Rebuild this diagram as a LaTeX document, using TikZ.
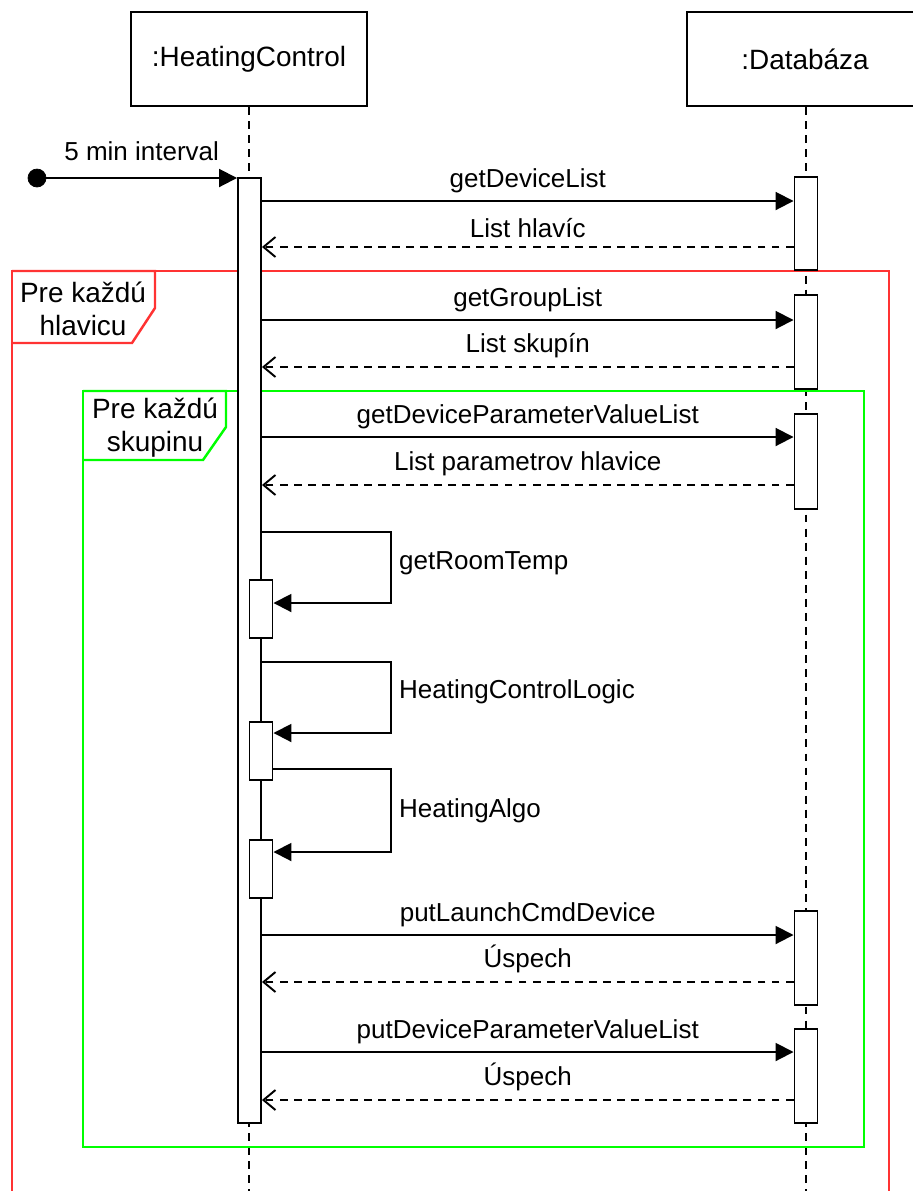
\documentclass[tikz,border=0pt]{standalone}
\usepackage{fontspec}
\setmainfont{Liberation Sans}
\usetikzlibrary{arrows.meta}

\tikzset{
  msgfont/.style={font=\fontsize{14.8}{18.7}\selectfont},
  bigfont/.style={font=\fontsize{15.9}{18.7}\selectfont},
  headbox/.style={draw, line width=1.1pt, fill=white, minimum width=4.72cm, minimum height=1.88cm, inner sep=0pt, bigfont},
  actbar/.style={draw, line width=1.1pt, fill=white, minimum width=0.46cm, inner sep=0pt},
  lifeline/.style={line width=1.1pt, dash pattern=on 4.5pt off 3.5pt},
  call/.style={line width=1.1pt, -{Triangle[length=0.36cm, width=0.36cm]}},
  reply/.style={line width=1.1pt, dash pattern=on 4.5pt off 3.5pt, -{Straight Barb[length=0.24cm, width=0.4cm, line width=1.1pt]}},
  loopframe/.style={line width=1.4pt},
}

\begin{document}
\begin{tikzpicture}[x=0.02cm, y=-0.02cm, msgfont, line join=miter]
  \useasboundingbox (0,0) rectangle (913,1191);
  \clip (0,0) rectangle (913,1191);

  % lifelines
  \node[headbox] (hc) at (249,59) {:HeatingControl};
  \node[headbox] (db) at (805,59) {:Databáza};
  \coordinate (hcend) at (249,1200);
  \coordinate (dbend) at (806,1200);
  \draw[lifeline] (hc.south) -- (hcend);
  \draw[lifeline] (db.south -| dbend) -- (dbend);

  % loop frames
  \definecolor{framered}{HTML}{FF3333}
  \definecolor{framegreen}{HTML}{00FF00}
  \draw[loopframe, framered] (12,1200) -- (12,271) -- (889,271) -- (889,1200);
  \draw[loopframe, framered] (12,271) -- (155,271) -- (155,308) -- (132,343) -- (12,343);
  \node[align=center, bigfont] (tabred) at (83,309) {Pre každú\\hlavicu};
  \draw[loopframe, framegreen] (83,391) rectangle (864,1147);
  \draw[loopframe, framegreen] (83,391) -- (226,391) -- (226,427) -- (203,460) -- (83,460);
  \node[align=center, bigfont] (tabgreen) at (155,428) {Pre každú\\skupinu};

  % activation bars
  \node[actbar, minimum height=18.9cm] (hcbar) at (249.5,650.5) {};
  \foreach \n/\top/\bot in {1/177/270, 2/295/389, 3/414/509, 4/911/1005, 5/1029/1123}
    \node[actbar, minimum height={(\bot-\top)*0.02cm}] (db\n) at (806,{(\top+\bot)/2}) {};
  \foreach \n/\top/\bot in {A/580/638, B/722/780, C/840/898}
    \node[actbar, minimum height={(\bot-\top)*0.02cm}] (self\n) at (261,{(\top+\bot)/2}) {};

  % trigger
  \node[circle, fill=black, draw=black, minimum size=0.36cm, inner sep=0pt] (start) at (37,178) {};
  \draw[call] (start) -- (hcbar.west |- start) node[midway, above=6pt] {5 min interval};

  % messages to the database
  \foreach \n/\yc/\lc/\yr/\lr in {1/201/getDeviceList/247/List hlavíc,
      2/320/getGroupList/367/List skupín,
      3/437/getDeviceParameterValueList/485/List parametrov hlavice,
      4/935/putLaunchCmdDevice/982/Úspech,
      5/1052/putDeviceParameterValueList/1100/Úspech}{
    \draw[call] (hcbar.east |- 0,\yc) -- (db\n.west |- 0,\yc) node[midway, above=0.5pt] {\lc};
    \draw[reply] (db\n.west |- 0,\yr) -- (hcbar.east |- 0,\yr) node[midway, above=1.5pt] {\lr};
  }

  % self calls
  \foreach \n/\from/\ys/\ye/\ly/\lab in {A/hcbar/532/603/563/getRoomTemp,
      B/hcbar/662/733/692/HeatingControlLogic,
      C/selfB/769/852/811/HeatingAlgo}{
    \draw[call] (\from.east |- 0,\ys) -- (391,\ys) -- (391,\ye) -- (self\n.east |- 0,\ye);
    \node[anchor=west] (lab\n) at (393,\ly) {\lab};
  }
\end{tikzpicture}
\end{document}
